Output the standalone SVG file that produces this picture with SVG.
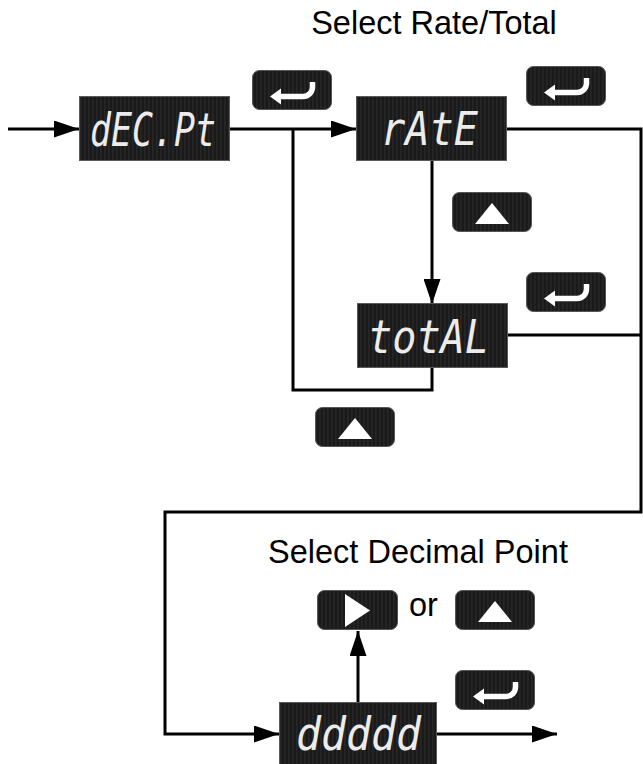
<svg xmlns="http://www.w3.org/2000/svg" xmlns:xlink="http://www.w3.org/1999/xlink" width="643" height="764" viewBox="0 0 643 764">
<style>
.lbl{font-family:"Liberation Sans",Arial,sans-serif;font-size:32.5px;fill:#000}
.lcd{font-family:"DejaVu Sans Mono","Liberation Mono",monospace;font-style:oblique;font-size:46px;fill:#ececec}
.disp{fill:url(#stripes);stroke:#5a5a5a;stroke-width:1}
.conn{fill:none;stroke:#000;stroke-width:3}
</style>
<defs>
<pattern id="stripes" width="4" height="4" patternUnits="userSpaceOnUse">
<rect width="4" height="4" fill="#1a1a1a"/>
<rect width="1.6" height="4" fill="#262626"/>
</pattern>
<marker id="arr" markerUnits="userSpaceOnUse" markerWidth="25" markerHeight="17" refX="25" refY="8.5" orient="auto">
<path d="M0,0 L25,8.5 L0,17 Z" fill="#000"/>
</marker>
<g id="btnEnter">
<rect x="0.5" y="0.5" width="79" height="39" rx="7" fill="url(#stripes)" stroke="#555"/>
<path d="M27 26.5 H51 A9.5 9.5 0 0 0 60.5 17 V12" fill="none" stroke="#fff" stroke-width="5.5"/>
<path d="M18 26.5 L29 18.5 L29 34.5 Z" fill="#fff"/>
</g>
<g id="btnUp">
<rect x="0.5" y="0.5" width="79" height="39" rx="7" fill="url(#stripes)" stroke="#555"/>
<path d="M40 11 L23 32 L57 32 Z" fill="#fff"/>
</g>
<g id="btnRight">
<rect x="0.5" y="0.5" width="80" height="39" rx="7" fill="url(#stripes)" stroke="#555"/>
<path d="M28 4 L28 37 L53 20.5 Z" fill="#fff"/>
</g>
</defs>
<rect width="643" height="764" fill="#fff"/>

<g id="connectors">
<path class="conn" d="M8 129 H79" marker-end="url(#arr)"/>
<path class="conn" d="M230 129 H356" marker-end="url(#arr)"/>
<path class="conn" d="M432 367 V390 H293 V129"/>
<path class="conn" d="M432 161 V304" marker-end="url(#arr)"/>
<path class="conn" d="M506 129 H641 V512 H165 V734 H279" marker-end="url(#arr)"/>
<path class="conn" d="M507 335 H641"/>
<path class="conn" d="M358 702 V631" marker-end="url(#arr)"/>
<path class="conn" d="M436 734 H557" marker-end="url(#arr)"/>
</g>

<g id="title-rate-total"><text class="lbl" x="434" y="34" text-anchor="middle">Select Rate/Total</text></g>
<g id="title-decimal"><text class="lbl" x="418" y="563" text-anchor="middle">Select Decimal Point</text></g>

<g id="node-decpt">
<rect class="disp" x="79.5" y="96.5" width="150" height="64"/>
<text class="lcd" x="90" y="146" textLength="126" lengthAdjust="spacingAndGlyphs">dEC.Pt</text>
</g>
<g id="node-rate">
<rect class="disp" x="356.5" y="96.5" width="150" height="64"/>
<text class="lcd" x="381" y="145" textLength="97" lengthAdjust="spacingAndGlyphs">rAtE</text>
</g>
<g id="node-total">
<rect class="disp" x="357.5" y="303.5" width="150" height="64"/>
<text class="lcd" x="368" y="353" textLength="121" lengthAdjust="spacingAndGlyphs">totAL</text>
</g>
<g id="node-ddddd">
<rect class="disp" x="279.5" y="702.5" width="157" height="66"/>
<text class="lcd" x="296" y="750" textLength="125" lengthAdjust="spacingAndGlyphs">ddddd</text>
</g>

<g id="btn-enter-1"><use xlink:href="#btnEnter" x="252" y="70"/></g>
<g id="btn-enter-2"><use xlink:href="#btnEnter" x="526" y="66"/></g>
<g id="btn-up-1"><use xlink:href="#btnUp" x="452" y="192"/></g>
<g id="btn-enter-3"><use xlink:href="#btnEnter" x="526" y="272"/></g>
<g id="btn-up-2"><use xlink:href="#btnUp" x="315" y="407"/></g>
<g id="btn-right"><use xlink:href="#btnRight" x="317" y="590"/></g>
<g id="or-label"><text class="lbl" x="409" y="616">or</text></g>
<g id="btn-up-3"><use xlink:href="#btnUp" x="455" y="590"/></g>
<g id="btn-enter-4"><use xlink:href="#btnEnter" x="455" y="670"/></g>
</svg>
